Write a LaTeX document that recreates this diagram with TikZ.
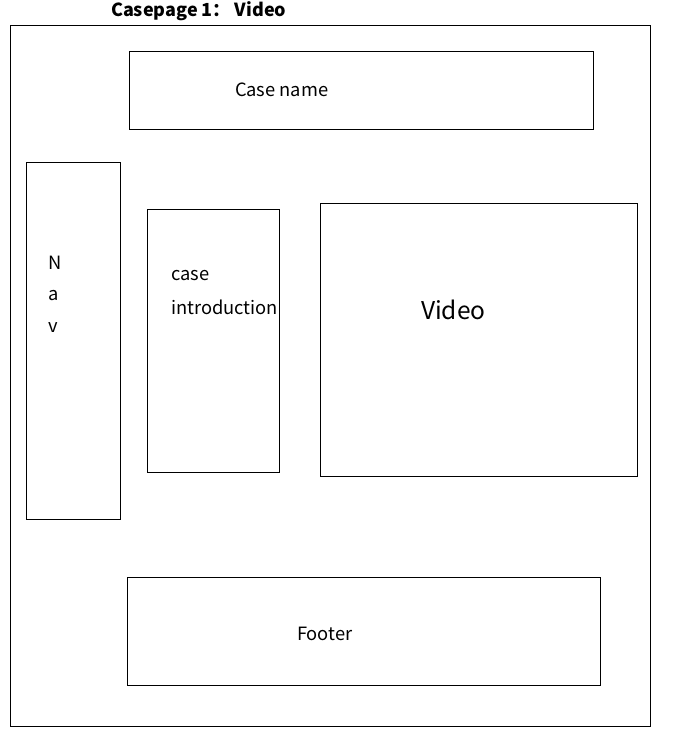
\documentclass[tikz,border=0pt]{standalone}
\usepackage{fontspec}
\setmainfont{Noto Sans CJK SC}

\begin{document}
\begin{tikzpicture}[x=1pt, y=-1pt, line width=1pt,
  every node/.style={inner sep=0pt, outer sep=0pt},
  box/.style={draw, anchor=north west},
  lbl/.style={anchor=west, font=\fontsize{18.3}{20}\selectfont}]
\useasboundingbox (0,0) rectangle (673,739);
\node[anchor=west, font=\fontsize{18}{20}\selectfont\bfseries] (title) at (111,11) {Casepage 1： Video};
\node[box, minimum width=640pt, minimum height=701pt] (page) at (10,25) {};
\node[box, minimum width=464pt, minimum height=78pt] (cname) at (129,51) {};
\node[box, minimum width=94pt, minimum height=357pt] (nav) at (26,162) {};
\node[box, minimum width=132pt, minimum height=263pt] (intro) at (147,209) {};
\node[box, minimum width=317pt, minimum height=273pt] (video) at (320,203) {};
\node[box, minimum width=473pt, minimum height=108pt] (footer) at (127,577) {};
\node[lbl] (cnameT) at (235,90) {Case name};
\node[lbl] (navN) at (48,263) {N};
\node[lbl] (navA) at (48,296) {a};
\node[lbl] (navV) at (48,328) {v};
\node[lbl] (introA) at (171,276) {case};
\node[lbl] (introB) at (171,307) {introduction};
\node[lbl, font=\fontsize{24.5}{27}\selectfont] (videoT) at (421,310) {Video};
\node[lbl] (footerT) at (297,634) {Footer};
\end{tikzpicture}
\end{document}
